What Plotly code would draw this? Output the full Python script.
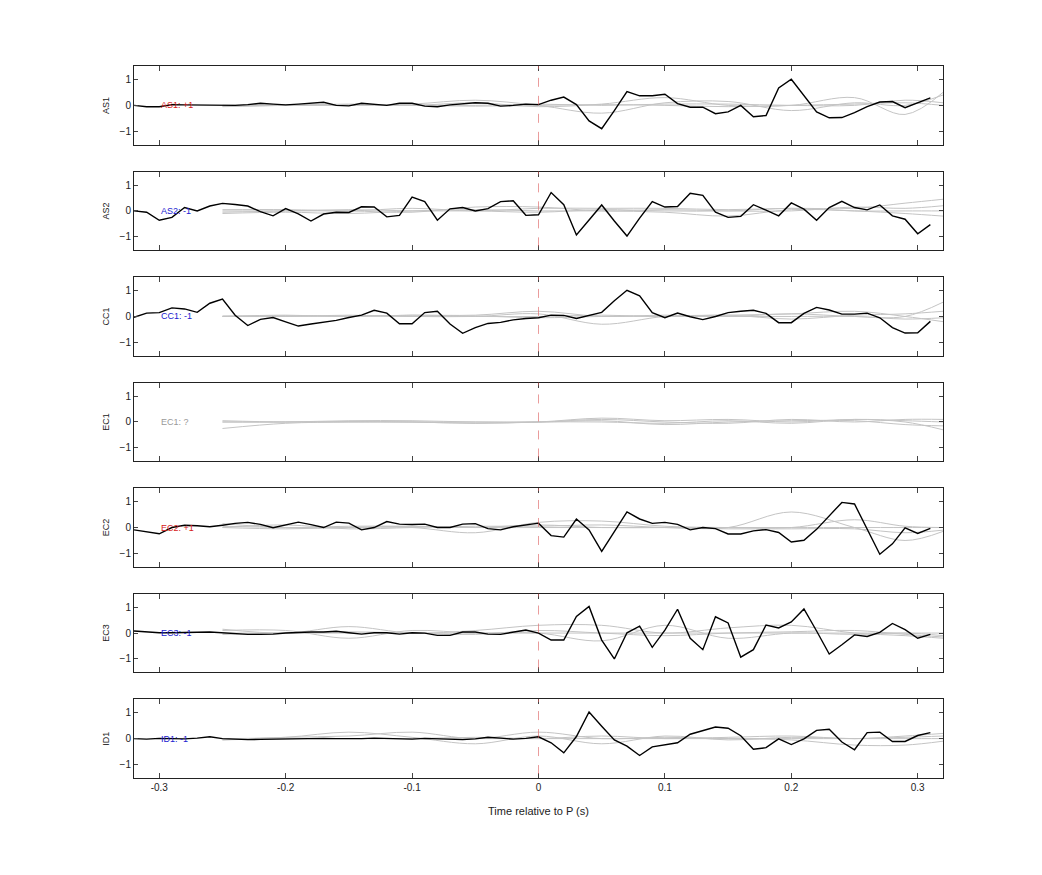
import plotly.graph_objects as go
from plotly.subplots import make_subplots

stations = ["AS1", "AS2", "CC1", "EC1", "EC2", "EC3", "ID1"]
labels = ["AS1: +1", "AS2: -1", "CC1: -1", "EC1: ?", "EC2: +1", "EC3: -1", "ID1: -1"]
label_colors = ["#d62020", "#2020d0", "#2020d0", "#999999", "#d62020", "#2020d0", "#2020d0"]

t_black = [round(-0.32 + 0.01 * i, 2) for i in range(64)]
black = {
    "AS1": [0, -0.05, -0.05, 0.03, 0.02, 0.02, 0, 0, 0, 0.03, 0.08, 0.05, 0.02, 0.05, 0.08, 0.12,
            0.0, -0.02, 0.08, 0.05, 0.0, 0.08, 0.08, -0.03, -0.05, 0.02, 0.05, 0.1, 0.08, -0.03, 0, 0.05,
            0.03, 0.2, 0.32, 0.03, -0.6, -0.9, -0.2, 0.53, 0.37, 0.37, 0.43, 0.07, -0.07, -0.07, -0.32, -0.25,
            0, -0.44, -0.39, 0.67, 1.01, 0.39, -0.25, -0.48, -0.47, -0.28, -0.05, 0.13, 0.15, -0.09, 0.09, 0.29],
    "AS2": [0, -0.05, -0.36, -0.25, 0.13, 0, 0.19, 0.29, 0.25, 0.19, -0.03, -0.19, 0.09, -0.11, -0.39, -0.12,
            -0.05, -0.06, 0.16, 0.15, -0.23, -0.17, 0.53, 0.36, -0.36, 0.08, 0.13, 0, 0.09, 0.36, 0.39, -0.17,
            -0.15, 0.71, 0.24, -0.93, -0.35, 0.23, -0.39, -0.97, -0.28, 0.36, 0.15, 0.17, 0.68, 0.6, -0.05, -0.25,
            -0.21, 0.24, 0.03, -0.19, 0.31, 0.07, -0.36, 0.13, 0.37, 0.13, 0.04, 0.23, -0.19, -0.32, -0.88, -0.53],
    "CC1": [-0.03, 0.13, 0.15, 0.33, 0.29, 0.16, 0.51, 0.67, 0.05, -0.35, -0.11, -0.04, -0.21, -0.37, -0.29, -0.23,
            -0.15, -0.04, 0.05, 0.24, 0.13, -0.28, -0.28, 0.15, 0.2, -0.29, -0.65, -0.43, -0.27, -0.23, -0.13, -0.08,
            -0.05, 0.05, 0.04, -0.08, 0.04, 0.16, 0.61, 1.01, 0.8, 0.15, -0.05, 0.13, -0.01, -0.12, 0, 0.15,
            0.2, 0.24, 0.12, -0.24, -0.24, 0.12, 0.35, 0.25, 0.09, 0.09, 0.13, -0.05, -0.43, -0.64, -0.63, -0.19],
    "EC2": [-0.09, -0.17, -0.24, 0, 0.09, 0.07, 0.03, 0.09, 0.16, 0.2, 0.12, -0.01, 0.09, 0.21, 0.11, 0,
            0.21, 0.17, -0.09, 0, 0.23, 0.13, 0.12, 0.13, 0, 0, 0.13, 0.15, -0.04, -0.09, 0.03, 0.09,
            0.17, -0.31, -0.37, 0.33, -0.09, -0.92, -0.16, 0.6, 0.33, 0.16, 0.2, 0.12, -0.09, 0, -0.04, -0.25,
            -0.25, -0.13, -0.08, -0.19, -0.56, -0.49, -0.07, 0.47, 0.97, 0.91, -0.07, -1.03, -0.63, -0.01, -0.23, -0.03],
    "EC3": [0.08, 0.05, 0.01, 0.01, 0.03, 0.03, 0.04, 0.01, -0.01, -0.05, -0.05, -0.04, 0, 0.03, 0.04, 0.04,
            0.07, 0.01, -0.04, 0.01, 0.01, -0.04, 0.01, 0, -0.09, -0.09, 0.04, 0.04, -0.04, -0.05, 0.04, 0.12,
            0, -0.27, -0.27, 0.64, 1.03, -0.27, -1.0, 0.01, 0.27, -0.55, 0.11, 0.92, -0.2, -0.64, 0.63, 0.39,
            -0.93, -0.64, 0.31, 0.2, 0.43, 0.93, 0.08, -0.81, -0.45, -0.07, -0.13, 0.03, 0.37, 0.13, -0.2, -0.05],
    "ID1": [0, -0.02, 0.01, 0, -0.01, 0.02, 0.07, 0.0, -0.02, -0.04, -0.03, -0.02, -0.01, 0.01, 0.02, 0.01,
            0, -0.01, 0, 0.02, 0.01, 0, -0.02, 0.01, 0, -0.02, -0.04, -0.01, 0.05, 0.02, -0.02, 0.01,
            0.07, -0.16, -0.55, 0.08, 1.03, 0.48, -0.05, -0.29, -0.65, -0.32, -0.23, -0.16, 0.17, 0.32, 0.45, 0.4,
            0.11, -0.41, -0.35, -0.01, -0.23, -0.01, 0.32, 0.36, -0.13, -0.43, 0.23, 0.25, -0.11, -0.11, 0.12, 0.23],
}

t_gray = [-0.25, -0.2, -0.15, -0.1, -0.05, 0.0, 0.05, 0.1, 0.15, 0.2, 0.25, 0.29, 0.32]
gray = {
    "AS1": [[0, 0.02, 0.0, 0.05, 0.2, 0.0, -0.3, 0.1, 0.15, -0.2, 0.1, 0.0, 0.4],
            [-0.05, 0, 0.05, 0, 0.1, -0.05, 0.05, 0.3, 0.0, 0.0, 0.3, -0.35, 0.5],
            [0, 0, 0, 0.02, 0, 0.05, 0.0, 0.05, 0.05, 0.0, 0.0, 0.2, 0.1],
            [-0.03, 0, 0.03, 0, -0.03, 0, 0.03, 0, -0.05, 0.0, 0.05, 0.1, 0.0]],
    "AS2": [[0.05, 0.05, 0.0, 0.1, 0.0, 0.1, 0.1, 0.1, 0.05, 0.1, 0.1, 0.3, 0.45],
            [-0.1, -0.05, -0.1, 0.0, 0.05, 0.0, 0.0, -0.05, -0.2, 0.05, 0.0, -0.1, -0.2],
            [0, 0, 0.0, -0.05, 0.15, 0.15, 0.0, 0.05, 0.0, 0.0, 0.15, 0.1, 0.2],
            [-0.05, 0, 0.05, 0.0, 0, -0.05, 0.05, 0.0, 0.0, 0.1, 0.0, 0.0, 0.0]],
    "CC1": [[0, 0.05, 0.0, 0.05, 0.05, 0.2, 0.0, 0.05, 0.0, 0.1, 0.0, 0.0, 0.55],
            [0, 0, 0.05, 0, 0.0, 0.1, -0.3, 0.0, 0.05, 0.1, 0.2, 0.0, -0.2],
            [0, 0.03, 0, 0.05, 0.0, 0.0, 0.05, 0.0, 0.05, -0.1, 0.05, 0.1, 0.2],
            [0.02, 0, 0.02, 0, 0.02, -0.05, 0.0, 0.0, 0.0, 0.0, 0.0, -0.1, -0.05]],
    "EC1": [[-0.25, -0.05, 0.0, 0.0, -0.05, 0.0, 0.15, 0.05, 0.1, 0.0, 0.1, 0.0, -0.3],
            [0, 0, 0.05, 0.05, 0, 0.0, 0.05, -0.1, 0.0, 0.05, 0.05, -0.1, -0.15],
            [0, 0, 0.0, 0.0, 0.0, 0.0, 0.1, 0.0, -0.05, 0.1, 0.0, 0.1, 0.1],
            [0.05, 0, 0.02, 0, -0.05, 0.0, 0.0, -0.05, 0.05, -0.05, 0.1, 0.05, 0.0]],
    "EC2": [[0.15, 0.0, 0.05, 0.05, 0, 0.1, 0.0, 0.0, 0.0, 0.6, 0.0, -0.5, -0.15],
            [0.0, -0.05, 0.0, 0.0, -0.2, 0.2, 0.25, 0.05, 0.0, 0.0, 0.3, 0.05, 0.0],
            [0, 0.1, -0.05, 0.0, 0.05, 0.05, 0.1, 0.0, -0.05, -0.05, -0.05, -0.2, -0.1],
            [0.05, 0, 0.0, 0.05, 0.0, 0.0, 0.0, 0.0, 0.0, 0.0, 0.0, 0.0, 0.0]],
    "EC3": [[0.15, 0.0, 0.25, 0.0, 0.1, 0.3, 0.3, 0.0, 0.2, 0.3, 0.0, -0.1, -0.2],
            [0.1, 0.1, -0.2, 0.1, 0.0, 0.0, -0.3, 0.3, -0.2, 0.0, -0.05, 0.0, -0.1],
            [-0.05, 0.0, 0.05, 0.0, -0.05, 0.1, 0.0, -0.1, 0.0, 0.05, 0.1, -0.05, -0.15],
            [0.0, 0.0, 0.0, 0.0, 0.0, 0.0, 0.0, 0.0, 0.0, 0.0, 0.0, 0.0, 0.0]],
    "ID1": [[0, 0.05, 0.25, 0.05, -0.2, 0.1, -0.2, 0.1, -0.05, 0.05, 0.0, 0.05, 0.1],
            [-0.05, 0.05, 0.1, 0.25, 0.0, 0.25, 0.0, 0.05, 0.0, -0.05, -0.25, -0.25, -0.1],
            [0, 0, 0, 0, 0.05, 0.0, 0.1, 0.0, 0.05, 0.1, 0.0, 0.1, 0.2],
            [-0.05, 0, 0.0, 0.0, 0.0, 0.0, 0.0, 0.0, 0.0, 0.0, 0.0, 0.0, 0.0]],
}

x_ticks = [-0.3, -0.2, -0.1, 0, 0.1, 0.2, 0.3]
y_ticks = [-1, 0, 1]

n = len(stations)
fig = make_subplots(rows=n, cols=1, shared_xaxes=True, vertical_spacing=0.0376)
font = "Liberation Sans, Arial, sans-serif"

for i, s in enumerate(stations):
    r = i + 1
    for g in gray[s]:
        fig.add_trace(go.Scatter(x=t_gray, y=g, mode="lines", line=dict(color="#c4c4c4", width=1, shape="spline"),
                                 showlegend=False, hoverinfo="skip"), row=r, col=1)
    if s in black:
        fig.add_trace(go.Scatter(x=t_black, y=black[s], mode="lines", line=dict(color="black", width=1.4),
                                 showlegend=False), row=r, col=1)
    fig.add_annotation(x=-0.3, y=0, text=labels[i], showarrow=False, xanchor="left",
                       font=dict(size=9, color=label_colors[i], family=font), row=r, col=1)
    xa = "x" if r == 1 else f"x{r}"
    fig.add_shape(type="line", x0=0, x1=0, y0=0.05, y1=1, xref=xa, yref=f"y{'' if r == 1 else r} domain",
                  line=dict(color="rgba(220,90,90,0.6)", width=1, dash="dash"))
    fig.update_yaxes(row=r, col=1, range=[-1.52, 1.52], tickvals=y_ticks, ticks="inside", ticklen=4,
                     mirror="allticks", showline=True, linecolor="#222", linewidth=1, showgrid=False,
                     zeroline=False, title=dict(text=s, font=dict(size=9, family=font), standoff=8),
                     tickfont=dict(size=10, family=font))
    fig.update_xaxes(row=r, col=1, range=[-0.32, 0.32], tickvals=x_ticks, ticks="inside", ticklen=5,
                     mirror="allticks", showline=True, linecolor="#222", linewidth=1, showgrid=False,
                     zeroline=False, tickfont=dict(size=10, family=font),
                     showticklabels=(r == n), ticktext=[str(v) for v in x_ticks])

fig.update_xaxes(row=n, col=1, title=dict(text="Time relative to P (s)", font=dict(size=11, family=font)))
fig.update_layout(width=1042, height=875, margin=dict(l=126, r=107, t=58, b=105),
                  plot_bgcolor="white", paper_bgcolor="white", font=dict(family=font, color="#222"))
fig.write_html("out.html")
